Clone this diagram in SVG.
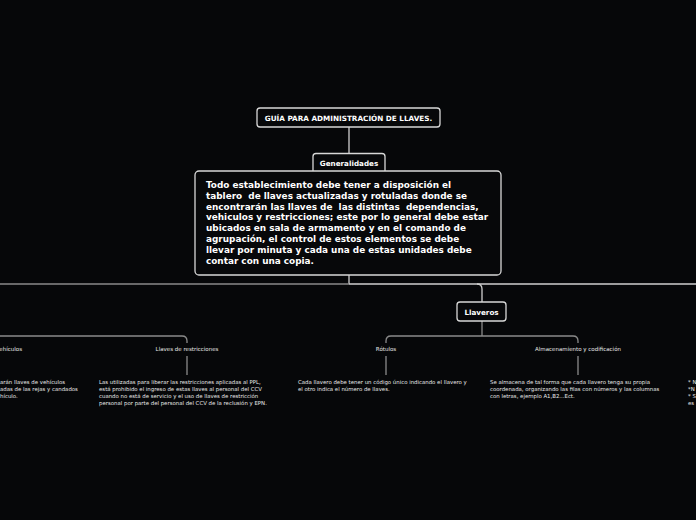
<svg xmlns="http://www.w3.org/2000/svg" width="696" height="520" viewBox="0 0 696 520">
<style>
.box{fill:#07080a;stroke:#d8d8d8;stroke-width:1.3}
.t{font-family:"DejaVu Sans",Verdana,sans-serif;fill:#ffffff}
.b{font-weight:bold}
.s{font-size:5.4px;fill:#e8e8e8}
.lbl{font-size:5.5px;fill:#e8e8e8;text-anchor:middle}
.c{fill:none;stroke:#cfcfcf;stroke-width:1.3}
.g{fill:none;stroke:#8a8a8a;stroke-width:1.3}
</style>
<rect width="696" height="520" fill="#060709"/>
<g id="connectors">
<path class="c" d="M349 127V154"/>
<path class="c" d="M349 275V284"/>
<path class="g" d="M0 284H349"/>
<path class="c" d="M349 284H696"/>
<path class="c" d="M477 284Q482 284 482 289V302"/>
<path class="g" d="M482 321V336"/>
<path class="g" d="M391 336H573Q578 336 578 341V343"/>
<path class="g" d="M391 336Q386 336 386 341V343"/>
<path class="g" d="M0 336H182Q187 336 187 341V343"/>
<path class="g" d="M386 356V375"/>
<path class="g" d="M578 356V375"/>
<path class="g" d="M187 356V375"/>
</g>
<g id="title">
<rect class="box" x="257" y="108" width="183" height="19" rx="3"/>
<text class="t b" x="348.5" y="120.5" font-size="7.25" text-anchor="middle">GUÍA PARA ADMINISTRACIÓN DE LLAVES.</text>
</g>
<g id="generalidades">
<rect class="box" x="313" y="153.5" width="72" height="22" rx="3"/>
<text class="t b" x="349" y="165.5" font-size="7.2" text-anchor="middle">Generalidades</text>
</g>
<g id="generalidades-texto">
<rect class="box" x="195" y="171" width="306" height="104" rx="4"/>
<text class="t b" font-size="8.9" xml:space="preserve"><tspan x="206" y="188">Todo establecimiento debe tener a disposición el</tspan><tspan x="206" y="198.8">tablero  de llaves actualizadas y rotuladas donde se</tspan><tspan x="206" y="209.6">encontrarán las llaves de  las distintas  dependencias,</tspan><tspan x="206" y="220.4">vehiculos y restricciones; este por lo general debe estar</tspan><tspan x="206" y="231.2">ubicados en sala de armamento y en el comando de</tspan><tspan x="206" y="242">agrupación, el control de estos elementos se debe</tspan><tspan x="206" y="252.8">llevar por minuta y cada una de estas unidades debe</tspan><tspan x="206" y="263.6">contar con una copia.</tspan></text>
</g>
<g id="llaveros">
<rect class="box" x="457" y="302" width="49" height="19" rx="3"/>
<text class="t b" x="481.5" y="314.5" font-size="7.2" text-anchor="middle">Llaveros</text>
</g>
<g id="vehiculos">
<text class="t lbl" x="22" y="351" style="text-anchor:end">ehículos</text>
<text class="t s"><tspan x="0" y="384">arán llaves de vehículos</tspan><tspan x="0" y="391">adas de las rejas y candados</tspan><tspan x="0" y="398">hículo.</tspan></text>
</g>
<g id="restricciones">
<text class="t lbl" x="187" y="351">Llaves de restricciones</text>
<text class="t s"><tspan x="99" y="384">Las utilizadas para liberar las restricciones aplicadas al PPL,</tspan><tspan x="99" y="391">está prohibido el ingreso de estas llaves al personal del CCV</tspan><tspan x="99" y="398">cuando no está de servicio y el uso de llaves de restricción</tspan><tspan x="99" y="405">personal por parte del personal del CCV de la reclusión y EPN.</tspan></text>
</g>
<g id="rotulos">
<text class="t lbl" x="386" y="351">Rótulos</text>
<text class="t s"><tspan x="298" y="384">Cada llavero debe tener un código único indicando el llavero y</tspan><tspan x="298" y="391">el otro indica el número de llaves.</tspan></text>
</g>
<g id="almacenamiento">
<text class="t lbl" x="578" y="351">Almacenamiento y codificación</text>
<text class="t s"><tspan x="490" y="384">Se almacena de tal forma que cada llavero tenga su propia</tspan><tspan x="490" y="391">coordenada, organizando las filas con números y las columnas</tspan><tspan x="490" y="398">con letras, ejemplo A1,B2...Ect.</tspan></text>
</g>
<g id="derecha">
<text class="t s"><tspan x="688" y="384">* N</tspan><tspan x="688" y="391">*N</tspan><tspan x="688" y="398">* S</tspan><tspan x="688" y="405">es</tspan></text>
</g>
</svg>
